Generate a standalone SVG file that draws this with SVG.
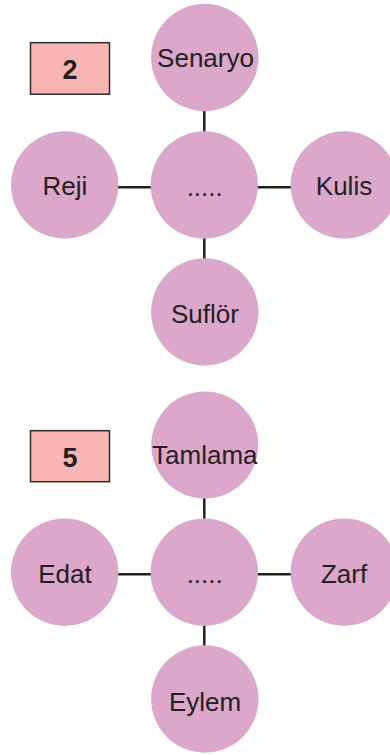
<svg xmlns="http://www.w3.org/2000/svg" width="390" height="755" viewBox="0 0 390 755">
<style>
.c{fill:#DBA7CB}
.t{font-family:"Liberation Sans",Arial,sans-serif;font-size:26px;fill:#231F20;text-anchor:middle}
.b{fill:#F8B5B3;stroke:#2B2B2B;stroke-width:1.5}
.n{font-family:"Liberation Sans",Arial,sans-serif;font-size:27px;font-weight:bold;fill:#231F20;text-anchor:middle}
.l{stroke:#231F20;stroke-width:2.5;fill:none}
</style>
<rect width="390" height="755" fill="#fff"/>
<g id="connectors">
<line class="l" x1="204.3" y1="110" x2="204.3" y2="132"/>
<line class="l" x1="204.3" y1="238" x2="204.3" y2="259"/>
<line class="l" x1="117" y1="187.3" x2="151" y2="187.3"/>
<line class="l" x1="257" y1="187.3" x2="291" y2="187.3"/>
<line class="l" x1="204.3" y1="497" x2="204.3" y2="519"/>
<line class="l" x1="204.3" y1="625" x2="204.3" y2="646"/>
<line class="l" x1="117" y1="574.3" x2="151" y2="574.3"/>
<line class="l" x1="257" y1="574.3" x2="291" y2="574.3"/>
</g>
<g id="label2"><rect class="b" x="30.5" y="42.7" width="79" height="51.5"/><text class="n" x="70" y="79">2</text></g>
<g id="senaryo"><circle class="c" cx="204.8" cy="57.5" r="53.7"/><text class="t" x="205.5" y="66.5">Senaryo</text></g>
<g id="center1"><circle class="c" cx="204.3" cy="185" r="53.7"/><text class="t" x="204.7" y="195.5">.....</text></g>
<g id="reji"><circle class="c" cx="64.7" cy="185" r="53.7"/><text class="t" x="65" y="195">Reji</text></g>
<g id="kulis"><circle class="c" cx="344.3" cy="185" r="53.7"/><text class="t" x="344" y="195">Kulis</text></g>
<g id="suflor"><circle class="c" cx="204.8" cy="312" r="53.7"/><text class="t" x="205" y="323">Suflör</text></g>
<g id="label5"><rect class="b" x="30.5" y="430.7" width="79" height="51"/><text class="n" x="70" y="467">5</text></g>
<g id="tamlama"><circle class="c" cx="204.8" cy="445" r="53.5"/><text class="t" x="204.8" y="464.3">Tamlama</text></g>
<g id="center2"><circle class="c" cx="204.3" cy="572.2" r="53.7"/><text class="t" x="204.7" y="583">.....</text></g>
<g id="edat"><circle class="c" cx="64.7" cy="572.2" r="53.7"/><text class="t" x="65" y="583">Edat</text></g>
<g id="zarf"><circle class="c" cx="344.3" cy="572.2" r="53.7"/><text class="t" x="344" y="583">Zarf</text></g>
<g id="eylem"><circle class="c" cx="204.8" cy="699" r="53.7"/><text class="t" x="205" y="710.5">Eylem</text></g>
</svg>
